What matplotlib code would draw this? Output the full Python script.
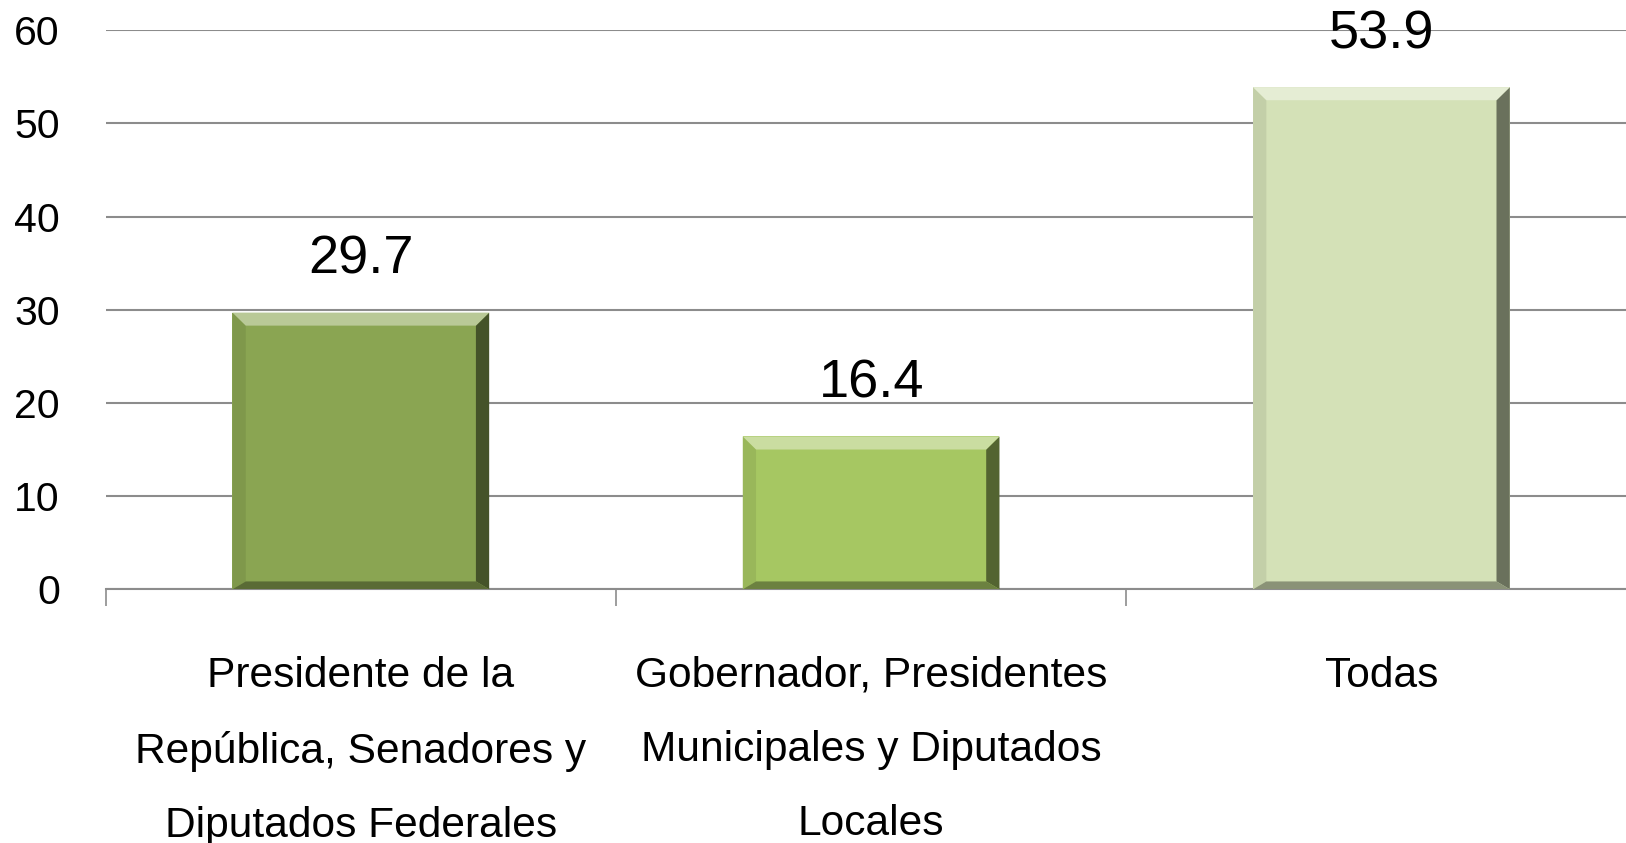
import matplotlib
matplotlib.use("Agg")
import matplotlib.pyplot as plt
from matplotlib.patches import Polygon
import matplotlib.colors as mcolors
import numpy as np

categories = ["Presidente de la\nRepública, Senadores y\nDiputados Federales",
              "Gobernador, Presidentes\nMunicipales y Diputados\nLocales",
              "Todas"]
values = [29.7, 16.4, 53.9]
labels = ["29.7", "16.4", "53.9"]
colors = ["#8AA552", "#A6C762", "#D4E1B7"]
yticks = [0, 10, 20, 30, 40, 50, 60]

plt.rcParams['font.family'] = ['Liberation Sans', 'DejaVu Sans']

fig = plt.figure(figsize=(16.26, 8.43), dpi=100)
ax = fig.add_axes([0.065, 0.301, 0.9415, 0.663])

x = np.arange(len(categories))
bars = ax.bar(x, values, width=0.503, color=colors, zorder=3)
ax.set_xlim(-0.5, 2.5)
ax.set_ylim(0, 60)

def shade(c, f):
    r = np.array(mcolors.to_rgb(c))
    if f >= 0:
        r = r + (1 - r) * f
    else:
        r = r * (1 + f)
    return np.clip(r, 0, 1)

# bevel effect
bx = 0.026  # bevel width in data x
by = 1.4    # bevel height in data y
for b, c in zip(bars, colors):
    x0, w, h = b.get_x(), b.get_width(), b.get_height()
    x1 = x0 + w
    top = [(x0, h), (x1, h), (x1 - bx, h - by), (x0 + bx, h - by)]
    bot = [(x0, 0), (x1, 0), (x1 - bx, by * 0.6), (x0 + bx, by * 0.6)]
    left = [(x0, 0), (x0, h), (x0 + bx, h - by), (x0 + bx, by * 0.6)]
    right = [(x1, 0), (x1, h), (x1 - bx, h - by), (x1 - bx, by * 0.6)]
    ax.add_patch(Polygon(left, closed=True, color=shade(c, -0.08), zorder=4, lw=0))
    ax.add_patch(Polygon(right, closed=True, color=shade(c, -0.5), zorder=4, lw=0))
    ax.add_patch(Polygon(bot, closed=True, color=shade(c, -0.35), zorder=5, lw=0))
    ax.add_patch(Polygon(top, closed=True, color=shade(c, 0.4), zorder=5, lw=0))

for b, lab in zip(bars, labels):
    ax.annotate(lab, (b.get_x() + b.get_width() / 2, b.get_height()),
                xytext=(0, 38), textcoords='offset points', ha='center', va='center',
                fontsize=39, color='black', zorder=6)

ax.set_yticks(yticks)
ax.set_yticklabels([str(v) for v in yticks], fontsize=29.5)
ax.tick_params(axis='y', length=0, pad=33)
ax.yaxis.grid(True, color='#8C8C8C', linewidth=1.5, zorder=0)

ax.set_xticks([-0.5, 0.5, 1.5, 2.5])
ax.set_xticklabels([])
ax.tick_params(axis='x', length=12, width=1.2, color='#8C8C8C', direction='out')
ax.set_xticks(x, minor=True)
ax.set_xticklabels(categories, minor=True, fontsize=30.6, linespacing=2.1)
ax.tick_params(axis='x', which='minor', length=0, pad=48)
for t in ax.get_xticklabels(minor=True):
    t.set_verticalalignment('top')

for s in ['top', 'right', 'left']:
    ax.spines[s].set_visible(False)
ax.spines['bottom'].set_color('#8C8C8C')
ax.spines['bottom'].set_linewidth(1.5)

fig.savefig("out.png", dpi=100, facecolor='white')
